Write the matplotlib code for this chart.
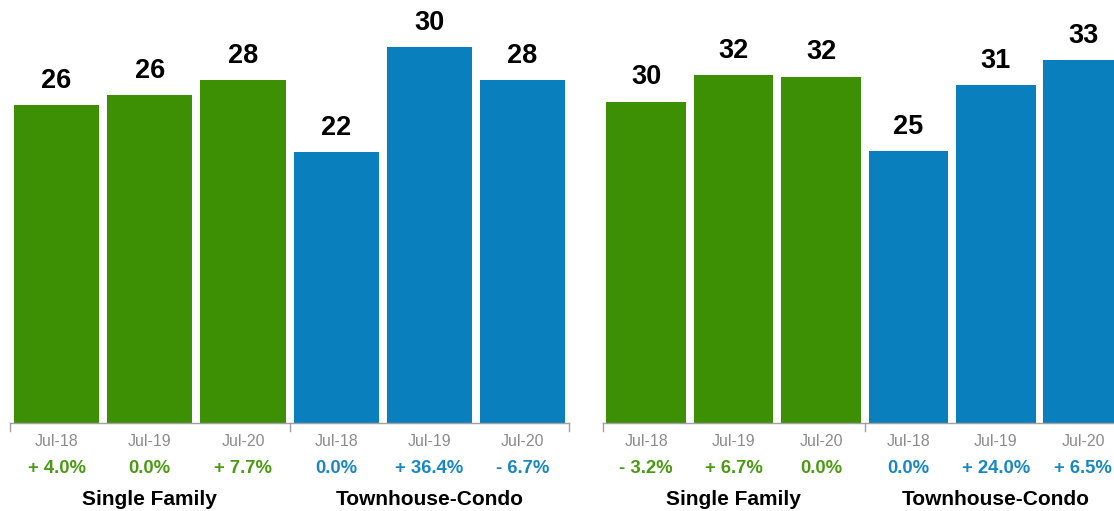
import matplotlib
matplotlib.use("Agg")
import matplotlib.pyplot as plt

plt.rcParams['font.family'] = ['Liberation Sans', 'DejaVu Sans']

periods = ["Jul-18", "Jul-19", "Jul-20"]
groups = ["Single Family", "Townhouse-Condo"]

# Left panel
left_sf = [25.6, 26.4, 27.6]
left_tc = [21.8, 30.3, 27.6]
left_sf_pct = [4.0, 0.0, 7.7]
left_tc_pct = [0.0, 36.4, -6.7]

# Right panel
right_sf = [29.6, 32.0, 31.9]
right_tc = [25.0, 31.1, 33.4]
right_sf_pct = [-3.2, 6.7, 0.0]
right_tc_pct = [0.0, 24.0, 6.5]

GREEN = "#3d8f03"
BLUE = "#0a7fbd"
GREEN_T = "#4a9a12"
BLUE_T = "#1786c6"
GRAY = "#8c8c8c"
AXIS = "#a0a0a0"

W, H = 1114, 511
fig = plt.figure(figsize=(W / 100, H / 100), dpi=100)

base_px = 423


def fmt_pct(p):
    if p > 0:
        return f"+ {p:.1f}%"
    if p < 0:
        return f"- {abs(p):.1f}%"
    return f"{p:.1f}%"


def panel(x0, slot, ymax, sf, tc, sf_pct, tc_pct):
    ax = fig.add_axes([x0 / W, (H - base_px) / H, 6 * slot / W, base_px / H])
    vals = sf + tc
    pcts = sf_pct + tc_pct
    cols = [GREEN] * 3 + [BLUE] * 3
    tcols = [GREEN_T] * 3 + [BLUE_T] * 3
    xs = [i + 0.5 for i in range(6)]
    ax.bar(xs, vals, width=0.913, color=cols, linewidth=0)
    ax.set_xlim(0, 6)
    ax.set_ylim(0, ymax)
    for s in ["top", "right", "left", "bottom"]:
        ax.spines[s].set_visible(False)
    ax.set_xticks([])
    ax.set_yticks([])
    ax.patch.set_alpha(0)
    # axis line and ticks
    tr = ax.get_xaxis_transform()
    ax.plot([0, 6], [0, 0], color=AXIS, lw=1, transform=tr, clip_on=False)
    for t in [0, 3, 6]:
        ax.plot([t, t], [0, -8 / base_px], color=AXIS, lw=1, transform=tr, clip_on=False)
    labels = periods * 2
    for x, v, p, lab, tc_ in zip(xs, vals, pcts, labels, tcols):
        ax.annotate(f"{round(v)}", (x, v), xytext=(0, 12.5), textcoords="offset points",
                    ha="center", va="baseline", fontsize=19.5, fontweight="bold", color="black")
        ax.text(x, -18 / base_px, lab, transform=tr, ha="center", va="center",
                fontsize=11.5, color=GRAY)
        ax.text(x, -45 / base_px, fmt_pct(p), transform=tr, ha="center", va="center",
                fontsize=13.3, fontweight="bold", color=tc_)
    for gx, g in zip([1.5, 4.5], groups):
        ax.text(gx, -76 / base_px, g, transform=tr, ha="center", va="center",
                fontsize=15, fontweight="bold", color="black")
    return ax


panel(10, 93.2, base_px / 12.41, left_sf, left_tc, left_sf_pct, left_tc_pct)
panel(602.5, 87.4, base_px / 10.86, right_sf, right_tc, right_sf_pct, right_tc_pct)

fig.savefig("out.png", dpi=100)
